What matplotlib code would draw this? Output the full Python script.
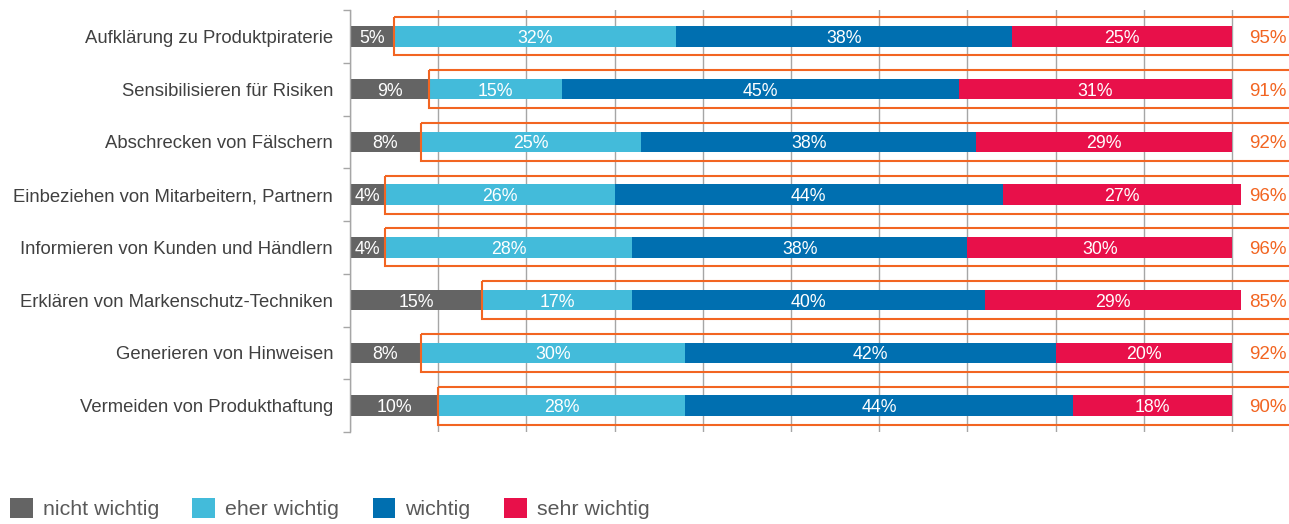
import numpy as np
import matplotlib.pyplot as plt
from matplotlib.patches import Rectangle, Patch

plt.rcParams["font.family"] = ["Liberation Sans", "DejaVu Sans"]

categories = [
    "Aufklärung zu Produktpiraterie",
    "Sensibilisieren für Risiken",
    "Abschrecken von Fälschern",
    "Einbeziehen von Mitarbeitern, Partnern",
    "Informieren von Kunden und Händlern",
    "Erklären von Markenschutz-Techniken",
    "Generieren von Hinweisen",
    "Vermeiden von Produkthaftung",
]
nicht_wichtig = [5, 9, 8, 4, 4, 15, 8, 10]
eher_wichtig = [32, 15, 25, 26, 28, 17, 30, 28]
wichtig = [38, 45, 38, 44, 38, 40, 42, 44]
sehr_wichtig = [25, 31, 29, 27, 30, 29, 20, 18]
total_wichtig = [95, 91, 92, 96, 96, 85, 92, 90]

series = [
    ("nicht wichtig", nicht_wichtig, "#646464"),
    ("eher wichtig", eher_wichtig, "#43bbda"),
    ("wichtig", wichtig, "#006fb0"),
    ("sehr wichtig", sehr_wichtig, "#e8104a"),
]
ORANGE = "#f26522"
GRID = "#a6a6a6"

fig = plt.figure(figsize=(12.89, 5.24), dpi=100)
ax = fig.add_axes([350 / 1289, 92 / 524, 939 / 1289, 422 / 524])

y = np.arange(len(categories))
left = np.zeros(len(categories))
for name, vals, color in series:
    vals = np.array(vals, dtype=float)
    ax.barh(y, vals, left=left, height=0.39, color=color, zorder=2, label=name)
    for yi, l, v in zip(y, left, vals):
        ax.text(l + v / 2, yi, f"{int(v)}%", ha="center", va="center_baseline",
                color="white", fontsize=12.8, zorder=4)
    left += vals

# orange frame around the "wichtig" share, running off the right edge
for yi, g, t in zip(y, nicht_wichtig, total_wichtig):
    ax.add_patch(Rectangle((g, yi - 0.36), 120, 0.72, fill=False,
                           edgecolor=ORANGE, linewidth=1.5, zorder=3))
    ax.text(104.1, yi, f"{t}%", ha="center", va="center_baseline",
            color=ORANGE, fontsize=13.5, zorder=4)

ax.set_xlim(0, 939 / 8.82)
ax.set_ylim(len(categories) - 0.5, -0.5)
ax.set_xticks(np.arange(0, 101, 10))
ax.xaxis.grid(True, color=GRID, linewidth=1, zorder=0)
ax.tick_params(axis="x", length=0, labelbottom=False)

ax.set_yticks(y)
ax.set_yticklabels(categories, fontsize=13.3, color="#404040")
ax.set_yticks(np.arange(-0.5, len(categories)), minor=True)
ax.tick_params(axis="y", which="major", length=0, pad=12.2)
ax.tick_params(axis="y", which="minor", length=5, color=GRID, width=1)

for s in ["top", "right", "bottom"]:
    ax.spines[s].set_visible(False)
ax.spines["left"].set_color(GRID)
ax.spines["left"].set_linewidth(1)

handles = [Patch(facecolor=c, edgecolor="none") for _, _, c in series]
labels = [n for n, _, _ in series]
leg = fig.legend(handles, labels, loc="center left",
                 bbox_to_anchor=(10 / 1289, 1 - 508.5 / 524),
                 ncol=4, frameon=False, fontsize=15.4, handlelength=1.07,
                 handleheight=1.07, handletextpad=0.47, columnspacing=1.55,
                 borderaxespad=0, borderpad=0)
for txt in leg.get_texts():
    txt.set_color("#595959")

fig.savefig("out.png", dpi=100)
